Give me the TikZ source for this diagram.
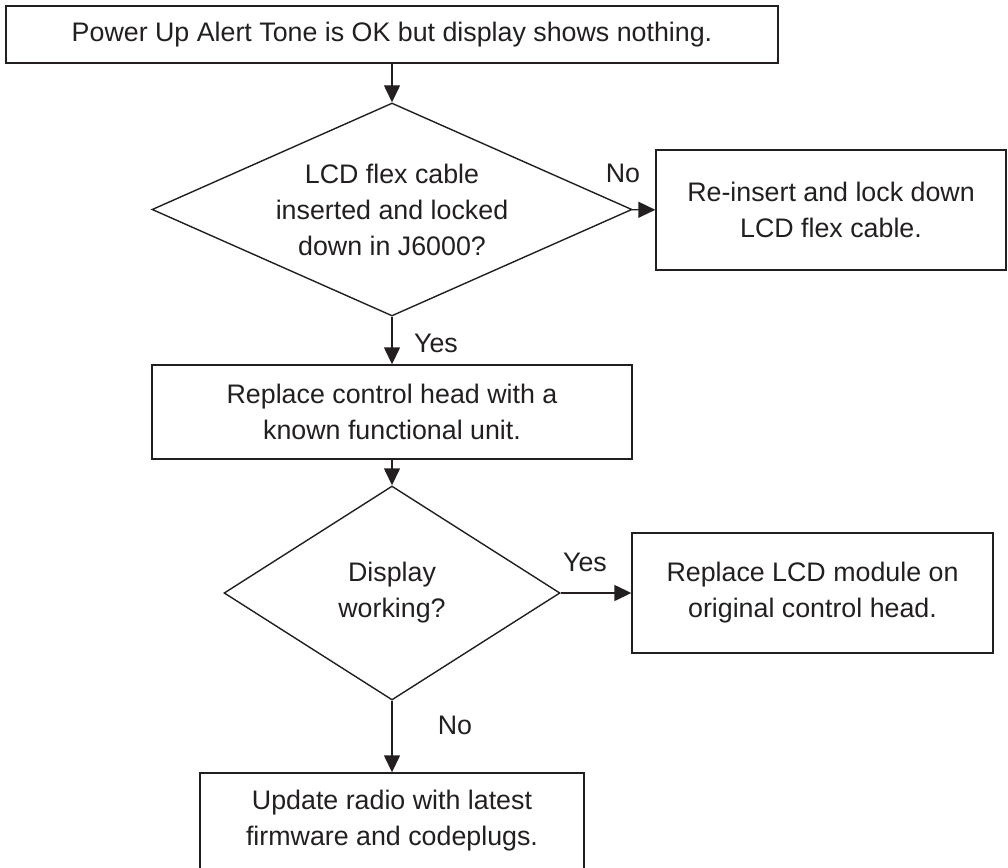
\documentclass[tikz,border=0pt]{standalone}
\usepackage{fontspec}
\setmainfont{Liberation Sans}
\usetikzlibrary{shapes.geometric,arrows.meta}
\definecolor{ink}{HTML}{231F20}
\tikzset{
  box/.style={draw,rectangle,inner sep=0pt,align=center},
  test/.style={draw,diamond,inner sep=0pt,align=center},
}
\begin{document}
\begin{tikzpicture}[x=1pt,y=-1pt,line width=1.4pt,color=ink,font=\fontsize{26.8}{36}\selectfont,-{Triangle[length=17pt,width=16pt]}]
        \useasboundingbox (0,0) rectangle (1008,867);
        \clip (0,0) rectangle (1008,867);
        \node[box,minimum width=772pt,minimum height=57pt] (alert) at (392,34.5) {Power Up Alert Tone is OK but display shows nothing.};
        \node[test,aspect=2.25,minimum width=480pt,minimum height=213pt] (flex) at (392,209.5) {LCD flex cable\\inserted and locked\\down in J6000?};
        \node[box,minimum width=350pt,minimum height=120pt] (reseat) at (831,210) {Re-insert and lock down\\LCD flex cable.};
        \node[box,minimum width=480pt,minimum height=94pt] (swap) at (392,412) {Replace control head with a\\known functional unit.};
        \node[test,aspect=1.57,minimum width=336pt,minimum height=214pt] (works) at (392,593) {Display\\working?};
        \node[box,minimum width=361pt,minimum height=120pt] (lcd) at (812.5,593) {Replace LCD module on\\original control head.};
        \node[box,minimum width=384pt,minimum height=96pt] (update) at (392,821) {Update radio with latest\\firmware and codeplugs.};
        \node (no1) at (623,173) {No};
        \node (yes1) at (436,343) {Yes};
        \node (yes2) at (585,562) {Yes};
        \node (no2) at (455,725) {No};
        \draw (alert) -- (flex);
        \draw (flex) -- (reseat);
        \draw (flex) -- (swap);
        \draw (swap) -- (works);
        \draw (works) -- (lcd);
        \draw (works) -- (update);
      \end{tikzpicture}
\end{document}
